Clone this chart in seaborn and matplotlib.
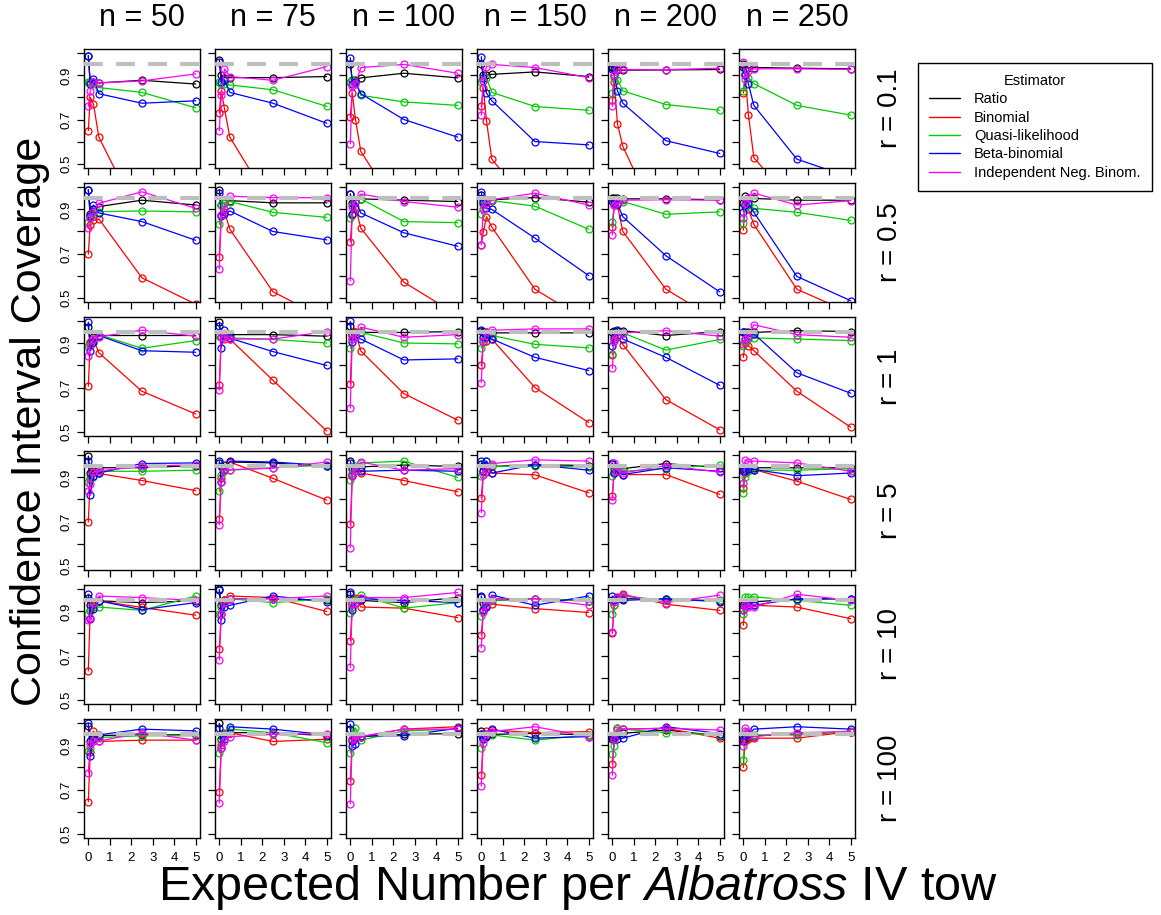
import numpy as np
import pandas as pd
import matplotlib
matplotlib.use("Agg")
import matplotlib.pyplot as plt
from matplotlib.lines import Line2D
import seaborn as sns

# expected number per tow (x) and the panel grid
expected = [0.01, 0.1, 0.25, 0.5, 2.5, 5]
n_values = [50, 75, 100, 150, 200, 250]
r_values = ["0.1", "0.5", "1", "5", "10", "100"]
estimators = ["Ratio", "Binomial", "Quasi-likelihood", "Beta-binomial",
              "Independent Neg. Binom."]
est_colors = ["#000000", "#FF0000", "#00CD00", "#0000FF", "#FF00FF"]

# coverage[r][n] -> values at each expected number
ratio_cov = [
    [[0.99, 0.87, 0.87, 0.866, 0.878, 0.861], [0.97, 0.90, 0.89, 0.89, 0.89, 0.895],
     [0.95, 0.88, 0.88, 0.889, 0.91, 0.889], [0.95, 0.90, 0.90, 0.905, 0.916, 0.895],
     [0.94, 0.93, 0.925, 0.924, 0.925, 0.927], [0.95, 0.93, 0.935, 0.936, 0.933, 0.93]],
    [[0.99, 0.88, 0.90, 0.913, 0.942, 0.92], [0.99, 0.92, 0.93, 0.94, 0.93, 0.93],
     [0.97, 0.93, 0.94, 0.948, 0.942, 0.936], [0.966, 0.94, 0.94, 0.944, 0.954, 0.933],
     [0.95, 0.95, 0.95, 0.948, 0.948, 0.944], [0.93, 0.96, 0.95, 0.95, 0.942, 0.942]],
    [[0.975, 0.90, 0.93, 0.936, 0.936, 0.936], [0.997, 0.93, 0.935, 0.94, 0.94, 0.933],
     [0.98, 0.94, 0.95, 0.95, 0.95, 0.954], [0.955, 0.95, 0.95, 0.948, 0.948, 0.948],
     [0.954, 0.955, 0.956, 0.958, 0.936, 0.954], [0.95, 0.95, 0.95, 0.95, 0.958, 0.954]],
    [[0.997, 0.92, 0.93, 0.944, 0.944, 0.954], [0.966, 0.95, 0.955, 0.97, 0.966, 0.95],
     [0.974, 0.94, 0.945, 0.948, 0.956, 0.95], [0.96, 0.95, 0.95, 0.95, 0.958, 0.954],
     [0.96, 0.94, 0.94, 0.94, 0.963, 0.944], [0.94, 0.94, 0.945, 0.944, 0.944, 0.944]],
    [[0.96, 0.93, 0.94, 0.948, 0.94, 0.948], [0.997, 0.93, 0.95, 0.958, 0.958, 0.95],
     [0.98, 0.94, 0.95, 0.95, 0.94, 0.963], [0.966, 0.94, 0.945, 0.95, 0.958, 0.948],
     [0.95, 0.95, 0.955, 0.958, 0.955, 0.948], [0.93, 0.94, 0.944, 0.944, 0.955, 0.958]],
    [[0.99, 0.92, 0.93, 0.945, 0.948, 0.948], [1.0, 0.93, 0.95, 0.958, 0.958, 0.944],
     [0.974, 0.92, 0.93, 0.94, 0.95, 0.954], [0.966, 0.94, 0.945, 0.95, 0.955, 0.948],
     [0.93, 0.94, 0.95, 0.955, 0.97, 0.944], [0.93, 0.93, 0.94, 0.944, 0.95, 0.963]],
]

binomial_cov = [
    [[0.65, 0.80, 0.77, 0.62, 0.23, 0.0], [0.73, 0.83, 0.75, 0.62, 0.30, 0.0],
     [0.71, 0.82, 0.70, 0.555, 0.25, 0.0], [0.76, 0.845, 0.694, 0.52, 0.28, 0.0],
     [0.79, 0.87, 0.68, 0.578, 0.16, 0.0], [0.82, 0.90, 0.72, 0.527, 0.30, 0.0]],
    [[0.697, 0.83, 0.85, 0.857, 0.59, 0.47], [0.685, 0.875, 0.89, 0.81, 0.527, 0.40],
     [0.753, 0.875, 0.91, 0.815, 0.57, 0.42], [0.74, 0.796, 0.867, 0.82, 0.538, 0.39],
     [0.82, 0.92, 0.918, 0.80, 0.538, 0.39], [0.806, 0.92, 0.90, 0.832, 0.538, 0.43]],
    [[0.706, 0.908, 0.92, 0.858, 0.683, 0.58], [0.712, 0.93, 0.92, 0.92, 0.733, 0.503],
     [0.716, 0.94, 0.95, 0.866, 0.672, 0.552], [0.80, 0.908, 0.91, 0.92, 0.70, 0.541],
     [0.848, 0.92, 0.93, 0.895, 0.645, 0.508], [0.837, 0.90, 0.89, 0.867, 0.683, 0.52]],
    [[0.698, 0.898, 0.92, 0.918, 0.886, 0.84], [0.71, 0.898, 0.94, 0.97, 0.896, 0.797],
     [0.687, 0.908, 0.945, 0.92, 0.886, 0.835], [0.808, 0.928, 0.925, 0.92, 0.912, 0.83],
     [0.817, 0.92, 0.93, 0.913, 0.913, 0.823], [0.852, 0.92, 0.93, 0.936, 0.883, 0.80]],
    [[0.63, 0.908, 0.93, 0.948, 0.918, 0.883], [0.73, 0.89, 0.95, 0.97, 0.963, 0.90],
     [0.768, 0.92, 0.96, 0.92, 0.915, 0.872], [0.794, 0.905, 0.92, 0.933, 0.913, 0.895],
     [0.80, 0.928, 0.965, 0.978, 0.933, 0.905], [0.837, 0.93, 0.93, 0.928, 0.92, 0.867]],
    [[0.645, 0.87, 0.966, 0.918, 0.924, 0.924], [0.69, 0.90, 0.955, 0.958, 0.918, 0.928],
     [0.738, 0.93, 0.93, 0.94, 0.974, 0.985], [0.765, 0.93, 0.966, 0.97, 0.958, 0.963],
     [0.817, 0.93, 0.978, 0.974, 0.978, 0.933], [0.80, 0.92, 0.93, 0.933, 0.933, 0.963]],
]

quasi_cov = [
    [[0.87, 0.87, 0.86, 0.845, 0.823, 0.753], [0.87, 0.86, 0.86, 0.857, 0.835, 0.76],
     [0.87, 0.878, 0.87, 0.81, 0.78, 0.764], [0.87, 0.875, 0.887, 0.823, 0.759, 0.742],
     [0.82, 0.89, 0.88, 0.83, 0.768, 0.742], [0.83, 0.91, 0.89, 0.863, 0.764, 0.72]],
    [[0.845, 0.87, 0.88, 0.89, 0.893, 0.889], [0.832, 0.92, 0.93, 0.936, 0.887, 0.864],
     [0.86, 0.92, 0.94, 0.948, 0.845, 0.84], [0.88, 0.92, 0.93, 0.94, 0.915, 0.81],
     [0.845, 0.92, 0.93, 0.936, 0.878, 0.889], [0.837, 0.91, 0.92, 0.905, 0.887, 0.85]],
    [[0.89, 0.895, 0.90, 0.94, 0.878, 0.913], [0.936, 0.93, 0.93, 0.925, 0.918, 0.902],
     [0.878, 0.92, 0.935, 0.95, 0.902, 0.898], [0.88, 0.92, 0.93, 0.936, 0.896, 0.88],
     [0.852, 0.91, 0.94, 0.948, 0.87, 0.918], [0.89, 0.91, 0.92, 0.925, 0.92, 0.913]],
    [[0.88, 0.89, 0.90, 0.928, 0.928, 0.933], [0.837, 0.91, 0.93, 0.933, 0.944, 0.956],
     [0.89, 0.92, 0.95, 0.966, 0.974, 0.90], [0.908, 0.93, 0.974, 0.95, 0.95, 0.948],
     [0.905, 0.93, 0.94, 0.928, 0.94, 0.958], [0.83, 0.90, 0.93, 0.933, 0.933, 0.94]],
    [[0.89, 0.90, 0.92, 0.92, 0.905, 0.97], [0.89, 0.92, 0.94, 0.958, 0.94, 0.958],
     [0.893, 0.92, 0.95, 0.974, 0.915, 0.94], [0.878, 0.91, 0.94, 0.95, 0.958, 0.948],
     [0.89, 0.93, 0.96, 0.97, 0.95, 0.95], [0.89, 0.966, 0.965, 0.966, 0.95, 0.928]],
    [[0.875, 0.89, 0.92, 0.936, 0.944, 0.944], [0.867, 0.92, 0.95, 0.974, 0.958, 0.913],
     [0.867, 0.93, 0.98, 0.924, 0.966, 0.974], [0.89, 0.93, 0.95, 0.948, 0.924, 0.948],
     [0.863, 0.898, 0.978, 0.974, 0.958, 0.948], [0.832, 0.966, 0.95, 0.948, 0.948, 0.966]],
]

betabin_cov = [
    [[0.99, 0.86, 0.886, 0.817, 0.774, 0.785], [0.96, 0.87, 0.88, 0.823, 0.774, 0.683],
     [0.98, 0.86, 0.87, 0.817, 0.70, 0.62], [0.985, 0.89, 0.82, 0.785, 0.60, 0.585],
     [0.93, 0.90, 0.83, 0.774, 0.604, 0.546], [0.94, 0.90, 0.86, 0.764, 0.52, 0.437]],
    [[0.99, 0.87, 0.92, 0.884, 0.845, 0.76], [0.975, 0.87, 0.88, 0.893, 0.80, 0.762],
     [0.97, 0.88, 0.936, 0.884, 0.794, 0.733], [0.98, 0.93, 0.905, 0.90, 0.77, 0.60],
     [0.94, 0.93, 0.925, 0.867, 0.69, 0.526], [0.89, 0.92, 0.93, 0.887, 0.596, 0.486]],
    [[0.997, 0.867, 0.905, 0.936, 0.867, 0.86], [0.98, 0.88, 0.96, 0.924, 0.863, 0.80],
     [1.0, 0.908, 0.93, 0.92, 0.825, 0.83], [0.96, 0.93, 0.93, 0.92, 0.837, 0.777],
     [0.89, 0.93, 0.96, 0.92, 0.837, 0.71], [0.95, 0.92, 0.93, 0.944, 0.767, 0.674]],
    [[0.974, 0.82, 0.905, 0.92, 0.963, 0.966], [0.974, 0.878, 0.935, 0.974, 0.97, 0.954],
     [0.966, 0.913, 0.928, 0.928, 0.933, 0.928], [0.974, 0.93, 0.974, 0.92, 0.958, 0.933],
     [0.966, 0.92, 0.93, 0.913, 0.944, 0.928], [0.928, 0.93, 0.94, 0.936, 0.908, 0.92]],
    [[0.978, 0.867, 0.913, 0.948, 0.908, 0.94], [1.0, 0.86, 0.92, 0.928, 0.97, 0.944],
     [0.99, 0.908, 0.94, 0.958, 0.95, 0.94], [0.97, 0.905, 0.92, 0.974, 0.928, 0.97],
     [0.97, 0.95, 0.96, 0.95, 0.958, 0.944], [0.905, 0.93, 0.93, 0.928, 0.958, 0.958]],
    [[1.0, 0.852, 0.933, 0.948, 0.974, 0.966], [0.98, 0.89, 0.928, 0.985, 0.974, 0.948],
     [0.997, 0.898, 0.908, 0.944, 0.944, 0.978], [0.95, 0.93, 0.94, 0.974, 0.933, 0.94],
     [0.94, 0.928, 0.93, 0.933, 0.985, 0.954], [0.92, 0.948, 0.95, 0.974, 0.985, 0.974]],
]

negbin_cov = [
    [[0.76, 0.83, 0.87, 0.866, 0.875, 0.907], [0.65, 0.81, 0.93, 0.895, 0.878, 0.94],
     [0.59, 0.85, 0.86, 0.936, 0.95, 0.91], [0.72, 0.875, 0.94, 0.95, 0.936, 0.89],
     [0.76, 0.90, 0.927, 0.927, 0.926, 0.933], [0.96, 0.886, 0.92, 0.93, 0.93, 0.927]],
    [[0.817, 0.86, 0.89, 0.928, 0.98, 0.905], [0.63, 0.875, 0.90, 0.96, 0.954, 0.953],
     [0.575, 0.91, 0.94, 0.97, 0.936, 0.91], [0.74, 0.90, 0.93, 0.944, 0.974, 0.92],
     [0.784, 0.92, 0.93, 0.942, 0.944, 0.942], [0.863, 0.93, 0.95, 0.974, 0.92, 0.94]],
    [[0.845, 0.89, 0.92, 0.93, 0.96, 0.933], [0.69, 0.93, 0.93, 0.92, 0.92, 0.954],
     [0.607, 0.92, 0.93, 0.974, 0.928, 0.94], [0.722, 0.913, 0.95, 0.96, 0.966, 0.966],
     [0.787, 0.913, 0.93, 0.948, 0.958, 0.933], [0.898, 0.92, 0.93, 0.985, 0.94, 0.928]],
    [[0.837, 0.87, 0.924, 0.93, 0.95, 0.958], [0.685, 0.88, 0.936, 0.935, 0.942, 0.97],
     [0.582, 0.913, 0.93, 0.97, 0.933, 0.94], [0.74, 0.913, 0.94, 0.963, 0.98, 0.974],
     [0.796, 0.966, 0.93, 0.92, 0.954, 0.924], [0.875, 0.98, 0.97, 0.974, 0.966, 0.928]],
    [[0.86, 0.87, 0.94, 0.97, 0.963, 0.95], [0.68, 0.89, 0.94, 0.958, 0.958, 0.97],
     [0.646, 0.936, 0.94, 0.963, 0.963, 0.986], [0.735, 0.898, 0.93, 0.958, 0.958, 0.928],
     [0.806, 0.944, 0.96, 0.974, 0.94, 0.974], [0.905, 0.93, 0.92, 0.92, 0.978, 0.95]],
    [[0.776, 0.905, 0.92, 0.92, 0.958, 0.924], [0.639, 0.89, 0.92, 0.94, 0.95, 0.954],
     [0.636, 0.928, 0.93, 0.94, 0.974, 0.974], [0.716, 0.913, 0.95, 0.963, 0.985, 0.94],
     [0.765, 0.93, 0.97, 0.974, 0.978, 0.97], [0.898, 0.98, 0.96, 0.94, 0.958, 0.963]],
]

nominal = 0.95

# long table for seaborn
all_cov = [ratio_cov, binomial_cov, quasi_cov, betabin_cov, negbin_cov]
rows = []
for est, cov in zip(estimators, all_cov):
    for i, r in enumerate(r_values):
        for j, n in enumerate(n_values):
            for x, y in zip(expected, cov[i][j]):
                rows.append((r, n, est, x, y))
df = pd.DataFrame(rows, columns=["r", "n", "estimator", "expected", "coverage"])

sns.set_style("ticks")
plt.rcParams["font.family"] = ["Liberation Sans", "DejaVu Sans"]
plt.rcParams["mathtext.fontset"] = "custom"
plt.rcParams["mathtext.rm"] = "Liberation Sans"
plt.rcParams["mathtext.it"] = "Liberation Sans:italic"
for key in ["text.color", "axes.labelcolor", "xtick.color", "ytick.color",
            "axes.edgecolor"]:
    plt.rcParams[key] = "black"

W, H = 1161, 915
fig = plt.figure(figsize=(W / 100, H / 100), dpi=100)
palette = dict(zip(estimators, est_colors))

# panel geometry in pixels
left0, top0, pw, ph, dx, dy = 84, 49, 116, 119, 131, 134

for i, r in enumerate(r_values):
    for j, n in enumerate(n_values):
        x0 = left0 + j * dx
        y0 = top0 + i * dy
        ax = fig.add_axes([x0 / W, 1 - (y0 + ph) / H, pw / W, ph / H])
        sub = df[(df["r"] == r) & (df["n"] == n)]
        sns.lineplot(data=sub, x="expected", y="coverage", hue="estimator",
                     hue_order=estimators, palette=palette, marker="o",
                     markersize=5, markerfacecolor="none", markeredgecolor="auto",
                     markeredgewidth=0.9, linewidth=0.9, errorbar=None,
                     sort=False, legend=False, ax=ax)
        ax.axhline(nominal, color="#BEBEBE", lw=3, dashes=(4.5, 3.2), zorder=5)
        ax.set_xlim(-0.19, 5.2)
        ax.set_ylim(0.48, 1.02)
        ax.set_xticks([0, 1, 2, 3, 4, 5])
        ax.set_yticks([0.5, 0.6, 0.7, 0.8, 0.9, 1.0])
        ax.set_xlabel("")
        ax.set_ylabel("")
        for s in ax.spines.values():
            s.set_visible(True)
            s.set_color("black")
            s.set_linewidth(1.0)
        ax.tick_params(direction="out", length=5, width=0.9, colors="black",
                       labelsize=9.5, pad=3)
        ax.tick_params(axis="x", pad=5)
        if j == 0:
            ax.set_yticklabels(["0.5", "", "0.7", "", "0.9", ""],
                               rotation=90, va="center")
        else:
            ax.set_yticklabels([])
        if i == len(r_values) - 1:
            ax.set_xticklabels(["0", "1", "2", "3", "4", "5"])
        else:
            ax.set_xticklabels([])
        if i == 0:
            fig.text((x0 + pw / 2) / W, 1 - 18 / H, f"n = {n}",
                     ha="center", va="center", fontsize=22)
        if j == len(n_values) - 1:
            fig.text(890 / W, 1 - (y0 + ph / 2) / H, f"r = {r}",
                     ha="center", va="center", rotation=90, fontsize=20)

fig.text(30 / W, 1 - 421 / H, "Confidence Interval Coverage",
         ha="center", va="center", rotation=90, fontsize=31)
fig.text(578 / W, 3 / H, r"Expected Number per $\mathit{Albatross}$ IV tow",
         ha="center", va="bottom", fontsize=35)

handles = [Line2D([], [], color=c, lw=1) for c in est_colors]
leg = fig.legend(handles, estimators, title="Estimator", loc="upper left",
                 bbox_to_anchor=(918 / W, 1 - 63 / H), frameon=True,
                 fancybox=False, edgecolor="black", framealpha=1,
                 fontsize=10.5, title_fontsize=10.5, handlelength=2.1,
                 handletextpad=1.0, labelspacing=0.3, borderpad=0.75,
                 borderaxespad=0)
leg.get_frame().set_linewidth(1.0)

fig.savefig("out.png", dpi=100)
